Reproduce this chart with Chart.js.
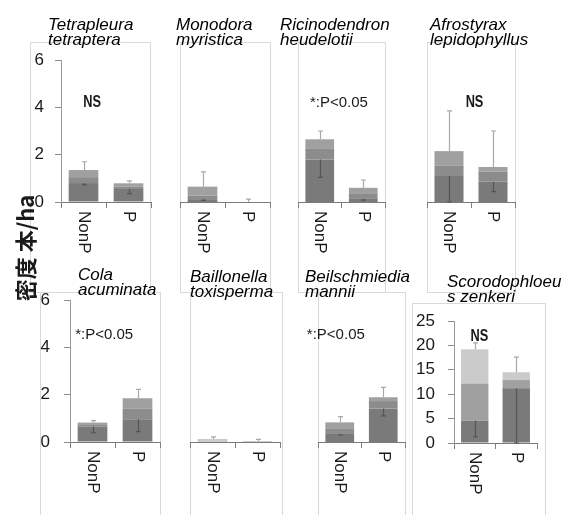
<!DOCTYPE html>
<html>
<head>
<meta charset="utf-8">
<script src="https://cdn.jsdelivr.net/npm/chart.js@4.4.0/dist/chart.umd.min.js"></script>
<style>
  body { margin: 0; background: #fff; }
  #wrap { position: relative; width: 562px; height: 515px; overflow: hidden; }
  .frame { position: absolute; border: 1px solid #d9d9d9; box-sizing: border-box; }
  .ttl { position: absolute; font: italic 17px/15px 'Liberation Sans', Arial, sans-serif; color: #000; white-space: nowrap; }
  canvas { position: absolute; }
  #ylab { position: absolute; left: 24px; top: 248px; transform: translate(-50%, -50%) rotate(-90deg);
          font: bold 22px 'Noto Sans CJK JP', sans-serif; color: #1a1a1a; white-space: nowrap; }
</style>
</head>
<body>
<div id="wrap"></div>
<script>
// species (two title lines each)
const species = [
    ['Tetrapleura', 'tetraptera'],
    ['Monodora', 'myristica'],
    ['Ricinodendron', 'heudelotii'],
    ['Afrostyrax', 'lepidophyllus'],
    ['Cola', 'acuminata'],
    ['Baillonella', 'toxisperma'],
    ['Beilschmiedia', 'mannii'],
    ['Scorodophloeu', 's zenkeri']
];
const groups = ['NonP', 'P'];

// stacked segments, bottom (dark) to top (light), [NonP, P] per species
const seg1 = [[0.8, 0.55], [0.12, 0], [1.8, 0.13], [1.1, 0.86], [0.65, 0.96], [0, 0], [0.34, 1.42], [4.6, 11.2]];
const seg2 = [[0.25, 0.1], [0.15, 0], [0.47, 0.24], [0.43, 0.42], [0.1, 0.46], [0, 0], [0.24, 0.31], [0, 0]];
const seg3 = [[0.3, 0.14], [0.38, 0], [0.38, 0.23], [0.62, 0.2], [0.07, 0.43], [0, 0], [0.25, 0.16], [7.6, 1.7]];
const seg4 = [[0, 0], [0, 0], [0, 0], [0, 0], [0, 0], [0.13, 0.04], [0, 0], [7.0, 1.6]];

// error bars: minus error on the bottom segment, plus error on the total
const errLow = [[0.08, 0.2], [0.05, 0], [0.76, 0.05], [1.1, 0.42], [0.26, 0.52], [0, 0], [0.04, 0.32], [3.3, 11.2]];
const errHigh = [[0.35, 0.1], [0.62, 0.12], [0.35, 0.33], [1.7, 1.52], [0.08, 0.37], [0.09, 0.07], [0.24, 0.42], [1.3, 3.1]];

const yMax = [6, 6, 6, 6, 6, 6, 6, 25];
const yStep = [2, 2, 2, 2, 2, 2, 2, 5];
const notes = ['NS', '', '*:P<0.05', 'NS', '*:P<0.05', '', '*:P<0.05', 'NS'];
const shades = ['#7a7a7a', '#8c8c8c', '#a0a0a0', '#cbcbcb'];

// layout: plot areas in page pixels, titles, frames
const boxes = [
    { l: 61, t: 60, r: 151, b: 202, axis: true, pad: 11 },
    { l: 180, t: 60, r: 270, b: 202 },
    { l: 298, t: 60, r: 385, b: 202 },
    { l: 427, t: 60, r: 515, b: 202 },
    { l: 70, t: 300, r: 160, b: 442, axis: true, pad: 14 },
    { l: 190, t: 300, r: 280, b: 442 },
    { l: 318, t: 300, r: 405, b: 442 },
    { l: 454, t: 321, r: 537, b: 443, axis: true, pad: 13 }
];
const notePos = [{ x: 0.19, y: 4.2 }, null, { x: 0.44, y: 4.2 }, { x: 0.58, y: 4.2 },
                 { x: 0.26, y: 4.52 }, null, { x: -0.09, y: 4.52 }, { x: 0.11, y: 21.9 }];
const titlePos = [[48, 17], [176, 17], [280, 17], [430, 17], [78, 267], [190, 269], [305, 269], [447, 274]];
const frames = [[30, 42, 121, 251], [180, 42, 91, 251], [298, 42, 88, 251], [427, 42, 89, 251],
                [40, 292, 121, 230], [190, 292, 93, 230], [318, 292, 88, 230], [412, 303, 134, 220]];

const padL = 45, padT = 26, padR = 6, padB = 70;
const wrap = document.getElementById('wrap');

frames.forEach(f => {
    const d = document.createElement('div');
    d.className = 'frame';
    d.style.cssText = `left:${f[0]}px;top:${f[1]}px;width:${f[2]}px;height:${f[3]}px`;
    wrap.appendChild(d);
});

function whisker(ctx, x, y0, y1, color) {
    ctx.strokeStyle = color;
    ctx.beginPath();
    ctx.moveTo(x, y0); ctx.lineTo(x, y1);
    ctx.moveTo(x - 2.5, y1); ctx.lineTo(x + 2.5, y1);
    ctx.stroke();
}

const errorBars = {
    id: 'errorBars',
    afterDatasetsDraw(chart, args, opts) {
        const p = opts.panel;
        const { ctx, scales: { y } } = chart;
        const meta = chart.getDatasetMeta(0);
        ctx.save();
        ctx.lineWidth = 1.2;
        groups.forEach((g, i) => {
            const x = Math.round(meta.data[i].x) + 0.5;
            const total = seg1[p][i] + seg2[p][i] + seg3[p][i] + seg4[p][i];
            if (errHigh[p][i] > 0)
                whisker(ctx, x, y.getPixelForValue(total), y.getPixelForValue(total + errHigh[p][i]), '#a8a8a8');
            if (errLow[p][i] > 0)
                whisker(ctx, x, y.getPixelForValue(seg1[p][i]),
                        y.getPixelForValue(Math.max(0, seg1[p][i] - errLow[p][i])), '#555555');
        });
        ctx.restore();
    }
};

const textLayer = {
    id: 'textLayer',
    afterDraw(chart, args, opts) {
        const p = opts.panel;
        const { ctx, chartArea, scales: { x, y } } = chart;
        ctx.save();
        ctx.fillStyle = '#1a1a1a';
        // rotated category labels
        ctx.font = '17px "Liberation Sans", Arial, sans-serif';
        ctx.textAlign = 'left';
        ctx.textBaseline = 'middle';
        groups.forEach((g, i) => {
            ctx.save();
            ctx.translate(x.getPixelForTick(i), chartArea.bottom + 9);
            ctx.rotate(Math.PI / 2);
            ctx.fillText(g, 0, 0);
            ctx.restore();
        });
        // significance note
        if (notes[p]) {
            const pos = notePos[p];
            ctx.textAlign = 'center';
            ctx.translate(x.getPixelForValue(pos.x), y.getPixelForValue(pos.y));
            if (notes[p] === 'NS') {
                ctx.font = 'bold 16px "Liberation Sans", Arial, sans-serif';
                ctx.scale(0.8, 1);
            } else {
                ctx.font = '15px "Liberation Sans", Arial, sans-serif';
            }
            ctx.fillText(notes[p], 0, 0);
        }
        ctx.restore();
    }
};

species.forEach((name, p) => {
    const box = boxes[p];
    const cv = document.createElement('canvas');
    cv.width = box.r - box.l + padL + padR;
    cv.height = box.b - box.t + padT + padB;
    cv.style.left = (box.l - padL) + 'px';
    cv.style.top = (box.t - padT) + 'px';
    wrap.appendChild(cv);

    new Chart(cv, {
        type: 'bar',
        data: {
            labels: groups,
            datasets: [seg1, seg2, seg3, seg4].map((s, k) => ({
                data: s[p],
                backgroundColor: shades[k],
                borderWidth: 0,
                categoryPercentage: 0.66,
                barPercentage: 1
            }))
        },
        options: {
            responsive: false,
            animation: false,
            events: [],
            layout: { padding: { left: box.axis ? 0 : padL, top: padT, right: padR, bottom: 0 } },
            plugins: {
                legend: { display: false },
                tooltip: { enabled: false },
                errorBars: { panel: p },
                textLayer: { panel: p }
            },
            scales: {
                x: {
                    stacked: true,
                    grid: { display: true, drawOnChartArea: false, drawTicks: true, tickLength: 6, color: '#808080', offset: true },
                    border: { display: true, color: '#7a7a7a' },
                    ticks: { display: false },
                    afterFit: s => { s.height = padB; }
                },
                y: {
                    stacked: true,
                    display: !!box.axis,
                    min: 0,
                    max: yMax[p],
                    ticks: {
                        stepSize: yStep[p],
                        autoSkip: false,
                        padding: box.pad || 10,
                        color: '#1a1a1a',
                        font: { family: '"Liberation Sans", Arial, sans-serif', size: 17 }
                    },
                    grid: { drawOnChartArea: false, drawTicks: true, tickLength: 6, color: '#8c8c8c' },
                    border: { color: '#999999' },
                    afterFit: s => { if (box.axis) s.width = padL; }
                }
            }
        },
        plugins: [errorBars, textLayer]
    });

    const t = document.createElement('div');
    t.className = 'ttl';
    t.style.left = titlePos[p][0] + 'px';
    t.style.top = titlePos[p][1] + 'px';
    t.innerHTML = name[0] + '<br>' + name[1];
    wrap.appendChild(t);
});

const yl = document.createElement('div');
yl.id = 'ylab';
yl.textContent = '密度 本/ha';
wrap.appendChild(yl);
</script>
</body>
</html>
